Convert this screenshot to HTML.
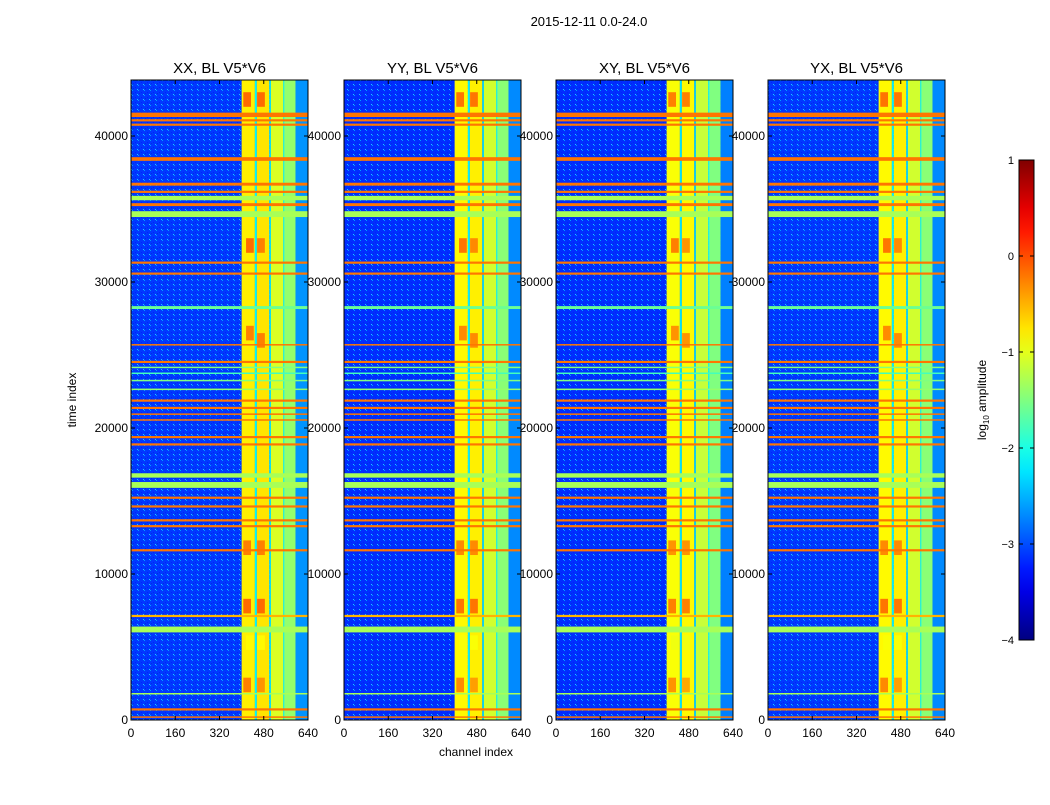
<!DOCTYPE html>
<html><head><meta charset="utf-8"><style>
body{margin:0;background:#fff;font-family:"Liberation Sans",sans-serif}
svg text{font-family:"Liberation Sans",sans-serif}
</style></head><body>
<svg id="fig" width="1050" height="800" xmlns="http://www.w3.org/2000/svg">
<defs>
<pattern id="speck" width="6" height="5" patternUnits="userSpaceOnUse">
<rect x="0" y="0" width="1" height="1" fill="#00a0ff"/><rect x="3" y="2" width="1" height="1" fill="#0020ff"/><rect x="5" y="4" width="1" height="1" fill="#20c8ff"/><rect x="1" y="3" width="1" height="1" fill="#0030e0"/>
</pattern>
</defs>
<rect width="1050" height="800" fill="#fff"/>
<text x="589" y="26" font-size="13" text-anchor="middle">2015-12-11 0.0-24.0</text>
<text x="476" y="756" font-size="12" text-anchor="middle">channel index</text>
<text transform="translate(76,400) rotate(-90)" font-size="12" text-anchor="middle">time index</text>
<g id="panels"></g>
<g id="cbar"></g>
</svg>
<script>
const panelTitles=["XX, BL V5*V6","YY, BL V5*V6","XY, BL V5*V6","YX, BL V5*V6"];
const panelOffsets=[0.05,0,-0.05,0];
const backgroundLevel=[-3.1,-3.15,-3.15,-3.1];
const xTicks=[0,160,320,480,640];
const yTicks=[0,10000,20000,30000,40000];
const cbarTicks=[1,0,-1,-2,-3,-4];
// channel bands: [start, end, log10 amplitude]
const channelBands=[[400,448,-0.85],[448,455,-2.2],[455,500,-0.8],[500,506,-2.3],[506,550,-1.1],[550,555,-1.9],[555,595,-1.45],[595,640,-2.7]];
// horizontal rows: [startTime, endTime, log10 amplitude]
const timeRows=[[41300,41600,-0.2],[41000,41150,-0.2],[40700,40850,-0.2],[38300,38550,-0.2],[36600,36800,-0.2],[36100,36250,-0.2],[35600,35900,-1.3],[35200,35400,-0.2],[34450,34850,-1.3],[31250,31400,-0.2],[30500,30650,-0.2],[28150,28350,-1.6],[25650,25750,-0.2],[24450,24600,-0.2],[24100,24200,-1.5],[23700,23800,-1.8],[23200,23300,-1.5],[22600,22700,-1.4],[21800,21950,-0.2],[21300,21450,-0.2],[20900,21000,-0.2],[20500,20600,-0.2],[19300,19450,-0.2],[18800,18950,-0.2],[16600,16900,-1.3],[15900,16300,-1.3],[15150,15300,-0.2],[14550,14700,-0.2],[13600,13750,-0.2],[13200,13350,-0.2],[11550,11700,-0.2],[7050,7200,-0.5],[6000,6400,-1.3],[1750,1850,-1.3],[650,800,-0.2],[150,250,-0.2]];
// bright blobs in band: [channel, time, log10 amp]
const blobs=[[420,42500,-0.2],[470,42500,-0.2],[430,32500,-0.2],[470,32500,-0.3],[430,26500,-0.3],[470,26000,-0.3],[420,11800,-0.3],[470,11800,-0.3],[420,7800,-0.2],[470,7800,-0.2],[420,2400,-0.3],[470,2400,-0.4],[430,5300,-0.9],[470,5300,-0.9]];

function jet(v){let t=(v+4)/5;t=Math.max(0,Math.min(1,t));
 const f=x=>Math.max(0,Math.min(1,1.5-Math.abs(4*t-x)));
 return `rgb(${Math.round(255*f(3))},${Math.round(255*f(2))},${Math.round(255*f(1))})`;}
const NS="http://www.w3.org/2000/svg";
function mk(tag,attrs,parent){const e=document.createElementNS(NS,tag);for(const k in attrs)e.setAttribute(k,attrs[k]);parent.appendChild(e);return e;}
const panelX=[131,344,556,768],pw=177,plotTop=80,plotBottom=720,tMax=43836;
const root=document.getElementById('panels');
panelTitles.forEach((title,i)=>{
 const x0=panelX[i];
 const sx=c=>x0+c/640*pw, sy=t=>plotBottom-t/tMax*(plotBottom-plotTop);
 const g=mk('g',{},root);
 
 
 const bg=mk('rect',{x:x0,y:plotTop,width:pw,height:plotBottom-plotTop,fill:jet(backgroundLevel[i])},g);
 
 
 mk('rect',{x:x0,y:plotTop,width:pw,height:plotBottom-plotTop,fill:'url(#speck)'},g);
 channelBands.forEach(b=>{const r=mk('rect',{x:sx(b[0]),y:plotTop,width:sx(b[1])-sx(b[0]),height:plotBottom-plotTop,fill:jet(b[2]+panelOffsets[i])},g);
  
  });
 blobs.forEach(b=>{const r=mk('rect',{x:sx(b[0]-14),y:sy(b[1]+500),width:sx(28)-sx(0),height:sy(0)-sy(1000),fill:jet(b[2]+panelOffsets[i])},g);
  
  });
 timeRows.forEach(r0=>{const r=mk('rect',{x:x0,y:sy(r0[1]),width:pw,height:Math.max(1.5,sy(r0[0])-sy(r0[1])),fill:jet(r0[2])},g);
  
  });
 mk('rect',{x:x0,y:plotTop,width:pw,height:plotBottom-plotTop,fill:'none',stroke:'#000','stroke-width':1},g);
 const tt=mk('text',{x:x0+pw/2,y:73,'font-size':15,'text-anchor':'middle'},g);tt.textContent=title;
 
 
 xTicks.forEach(v=>{const x=sx(v);mk('line',{x1:x,x2:x,y1:plotBottom,y2:plotBottom-4,stroke:'#000'},g);mk('line',{x1:x,x2:x,y1:plotTop,y2:plotTop+4,stroke:'#000'},g);
  const t=mk('text',{x:x,y:737,'font-size':12,'text-anchor':'middle'},g);t.textContent=v;
  
  });
 yTicks.forEach(v=>{const y=sy(v);mk('line',{x1:x0,x2:x0+4,y1:y,y2:y,stroke:'#000'},g);mk('line',{x1:x0+pw,x2:x0+pw-4,y1:y,y2:y,stroke:'#000'},g);
  const t=mk('text',{x:x0-3,y:y+4,'font-size':12,'text-anchor':'end'},g);t.textContent=v;
  
  });
});
const cb=document.getElementById('cbar');


const cx=1019,cw=15,ct=160,cbm=640;
const grad=mk('linearGradient',{id:'jg',x1:0,y1:1,x2:0,y2:0},mk('defs',{},cb));
for(let k=0;k<=20;k++){mk('stop',{offset:k/20,'stop-color':jet(-4+5*k/20)},grad);}
mk('rect',{x:cx,y:ct,width:cw,height:cbm-ct,fill:'url(#jg)',stroke:'#000'},cb);
cbarTicks.forEach(v=>{const y=cbm-(v+4)/5*(cbm-ct);mk('line',{x1:cx,x2:cx+4,y1:y,y2:y,stroke:'#000'},cb);mk('line',{x1:cx+cw,x2:cx+cw-4,y1:y,y2:y,stroke:'#000'},cb);
 const t=mk('text',{x:cx-5,y:y+4,'font-size':11,'text-anchor':'end'},cb);t.textContent=v<0?'\u2212'+(-v):v;
 
 });
const cl=mk('text',{transform:'translate(986,400) rotate(-90)','font-size':12,'text-anchor':'middle'},cb);


cl.innerHTML='log<tspan font-size="8" dy="3">10</tspan><tspan dy="-3"> amplitude</tspan>';
</script>
</body></html>
